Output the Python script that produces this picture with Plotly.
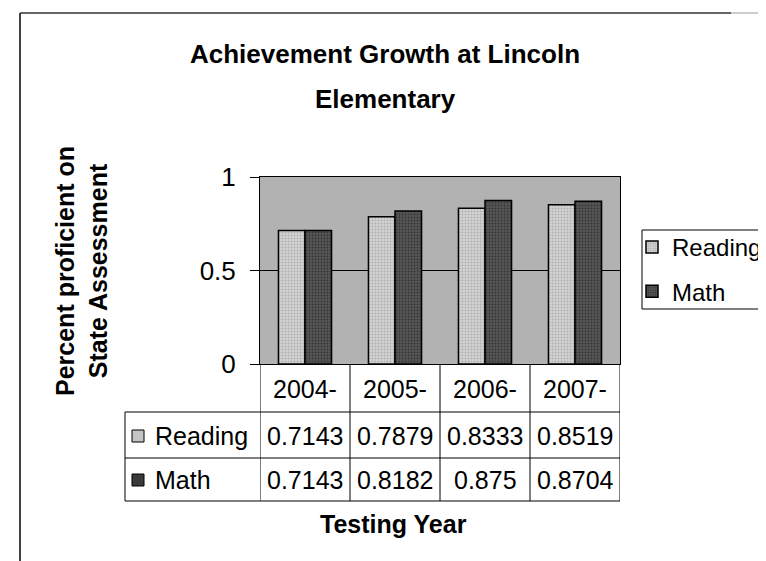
import plotly.graph_objects as go

W, H = 766, 561

years = ["2004-", "2005-", "2006-", "2007-"]
reading = [0.7143, 0.7879, 0.8333, 0.8519]
math = [0.7143, 0.8182, 0.875, 0.8704]
series_names = ["Reading", "Math"]
y_ticks = [0, 0.5, 1]
y_tick_text = ["0", "0.5", "1"]

FONT = "Arial, Liberation Sans, sans-serif"
READ_COLOR = "#c4c4c4"
MATH_COLOR = "#3a3a3a"


def px(x):
    return x / W


def py(y):
    return 1 - y / H


# pixel geometry of the plot and table
PLOT_L, PLOT_R, PLOT_T, PLOT_B = 252, 612, 169, 356
TAB_L = 117
ROW_LINES = [404, 450, 493]
ROW_MID = [381, 428, 472]

fig = go.Figure()
fig.add_trace(go.Bar(
    x=years, y=reading, name=series_names[0], legendgroup="r",
    marker=dict(color=READ_COLOR, line=dict(color="black", width=1.5),
                pattern=dict(shape=".", fgcolor="#8a8a8a", bgcolor="#d2d2d2", size=3, solidity=0.35)),
))
fig.add_trace(go.Bar(
    x=years, y=math, name=series_names[1], legendgroup="m",
    marker=dict(color=MATH_COLOR, line=dict(color="black", width=1.5),
                pattern=dict(shape=".", fgcolor="#1a1a1a", bgcolor="#555555", size=3, solidity=0.35)),
))

shapes = []
annotations = []
txt = dict(showarrow=False, xanchor="center", yanchor="middle")

# table lines
for yl in ROW_LINES:
    shapes.append(dict(type="line", xref="paper", yref="paper",
                       x0=px(TAB_L), x1=px(PLOT_R), y0=py(yl), y1=py(yl),
                       line=dict(color="black", width=1)))
shapes.append(dict(type="line", xref="paper", yref="paper",
                   x0=px(TAB_L), x1=px(TAB_L), y0=py(ROW_LINES[0]), y1=py(ROW_LINES[-1]),
                   line=dict(color="black", width=1)))
for k in range(len(years) + 1):
    shapes.append(dict(type="line", xref="x", yref="paper",
                       x0=k - 0.5, x1=k - 0.5, y0=py(PLOT_B), y1=py(ROW_LINES[-1]),
                       line=dict(color="black", width=1)))

# header row
for i, yr in enumerate(years):
    annotations.append(dict(x=i, y=py(ROW_MID[0]), xref="x", yref="paper", text=yr,
                            font=dict(size=25, color="black"), **txt))

# data rows
for r, (name, vals, col) in enumerate([(series_names[0], reading, READ_COLOR),
                                       (series_names[1], math, MATH_COLOR)]):
    ym = ROW_MID[r + 1]
    shapes.append(dict(type="rect", xref="paper", yref="paper",
                       x0=px(124), x1=px(136), y0=py(ym + 6), y1=py(ym - 6),
                       fillcolor=col, line=dict(color="black", width=1)))
    annotations.append(dict(x=px(145), y=py(ym), xref="paper", yref="paper", text=name,
                            showarrow=False, xanchor="left", yanchor="middle",
                            font=dict(size=25, color="black")))
    for i, v in enumerate(vals):
        annotations.append(dict(x=i, y=py(ym), xref="x", yref="paper", text=f"{v:g}",
                                font=dict(size=25, color="black"), **txt))

# title
annotations.append(dict(x=px(377), y=py(46), xref="paper", yref="paper",
                        text="<b>Achievement Growth at Lincoln</b>",
                        font=dict(size=26, color="black"), **txt))
annotations.append(dict(x=px(377), y=py(91), xref="paper", yref="paper",
                        text="<b>Elementary</b>",
                        font=dict(size=26, color="black"), **txt))

# axis titles
annotations.append(dict(x=px(73), y=py(263), xref="paper", yref="paper",
                        text="<b>Percent proficient on<br>State Assessment</b>",
                        textangle=-90, font=dict(size=25, color="black"), **txt))
annotations.append(dict(x=px(385), y=py(516), xref="paper", yref="paper",
                        text="<b>Testing Year</b>",
                        font=dict(size=25, color="black"), **txt))

# legend box (drawn so it runs off the right edge like the original)
shapes.append(dict(type="rect", xref="paper", yref="paper",
                   x0=px(634), x1=px(775), y0=py(301), y1=py(222),
                   fillcolor="white", line=dict(color="black", width=1), layer="below"))

# outer chart frame
shapes.append(dict(type="line", xref="paper", yref="paper", x0=px(12), x1=px(12),
                   y0=py(5), y1=0, line=dict(color="black", width=1.5)))
shapes.append(dict(type="line", xref="paper", yref="paper", x0=px(12), x1=px(723),
                   y0=py(5), y1=py(5), line=dict(color="#333333", width=1.5)))
shapes.append(dict(type="line", xref="paper", yref="paper", x0=px(723), x1=1,
                   y0=py(5), y1=py(5), line=dict(color="#999999", width=1)))

fig.update_layout(
    width=W, height=H,
    margin=dict(l=0, r=0, t=0, b=0, autoexpand=False),
    paper_bgcolor="white",
    plot_bgcolor="#b2b2b2",
    font=dict(family=FONT, color="black", size=25),
    barmode="group",
    bargap=0.41,
    bargroupgap=0,
    showlegend=True,
    legend=dict(x=px(624), y=py(217), xanchor="left", yanchor="top",
                bgcolor="rgba(0,0,0,0)", borderwidth=0,
                font=dict(size=24), tracegroupgap=10, itemwidth=30),
    shapes=shapes,
    annotations=annotations,
)
fig.update_xaxes(domain=[px(PLOT_L), px(PLOT_R)], range=[-0.5, 3.5],
                 showticklabels=False, ticks="", showgrid=False,
                 showline=True, linecolor="black", linewidth=1, mirror=True)
fig.update_yaxes(domain=[py(PLOT_B), py(PLOT_T)], range=[0, 1],
                 tickvals=y_ticks, ticktext=y_tick_text, ticks="outside", ticklen=9,
                 tickcolor="black", tickfont=dict(size=26), ticklabelstandoff=9,
                 showgrid=True, gridcolor="black", gridwidth=1, zeroline=False,
                 showline=True, linecolor="black", linewidth=1, mirror=True)

fig.write_html("out.html")
